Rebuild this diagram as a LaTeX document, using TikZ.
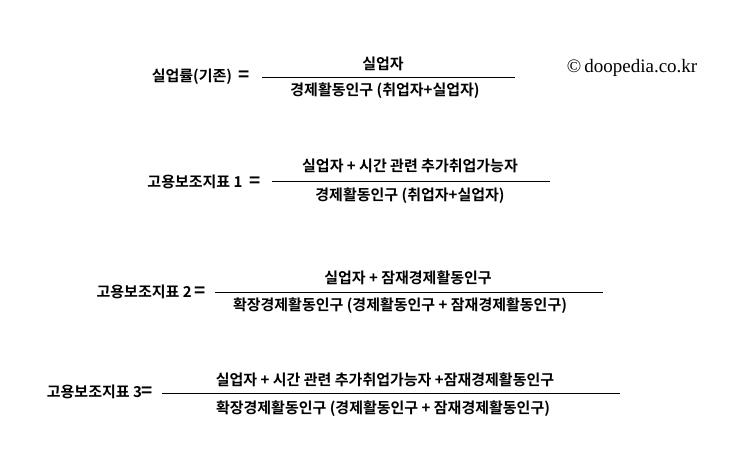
\documentclass[tikz,border=0pt]{standalone}
\usepackage{fontspec}
\newfontfamily\kr{Noto Sans CJK KR}[BoldFont={Noto Sans CJK KR Bold}]
\newfontfamily\ser{Liberation Serif}
\tikzset{t/.style={font=\kr\bfseries\fontsize{15}{17}\selectfont, inner sep=0pt, anchor=center}, bar/.style={line width=0.8pt}}
\newcommand{\eqq}{{\fontsize{19}{19}\selectfont =}}
\begin{document}
\begin{tikzpicture}[x=1pt,y=-1pt]
\useasboundingbox (0,0) rectangle (743,452);
\node[t] (l1) at (201,77) {실업률(기존) \ \eqq};
\coordinate (a1) at (262,77); \coordinate (b1) at (515,77);
\draw[bar] (a1) -- (b1);
\node[t] (n1) at (383,64) {실업자};
\node[t] (d1) at (385,91) {경제활동인구 (취업자+실업자)};
\node[font=\ser\fontsize{19}{21}\selectfont, inner sep=0pt] (c) at (632,68) {©\,doopedia.co.kr};

\node[t] (l2) at (204,182) {고용보조지표 1 \ \eqq};
\coordinate (a2) at (272,181); \coordinate (b2) at (550,181);
\draw[bar] (a2) -- (b2);
\node[t] (n2) at (410,166) {실업자 + 시간 관련 추가취업가능자};
\node[t] (d2) at (410,196) {경제활동인구 (취업자+실업자)};

\node[t] (l3) at (151,292) {고용보조지표 2\,\eqq};
\coordinate (a3) at (215,292); \coordinate (b3) at (603,292);
\draw[bar] (a3) -- (b3);
\node[t] (n3) at (408,278) {실업자 + 잠재경제활동인구};
\node[t] (d3) at (400,306) {확장경제활동인구 (경제활동인구 + 잠재경제활동인구)};

\node[t] (l4) at (100,392) {고용보조지표 3\eqq};
\coordinate (a4) at (162,393); \coordinate (b4) at (620,393);
\draw[bar] (a4) -- (b4);
\node[t] (n4) at (385,380) {실업자 + 시간 관련 추가취업가능자 +잠재경제활동인구};
\node[t] (d4) at (383,409) {확장경제활동인구 (경제활동인구 + 잠재경제활동인구)};
\end{tikzpicture}
\end{document}
